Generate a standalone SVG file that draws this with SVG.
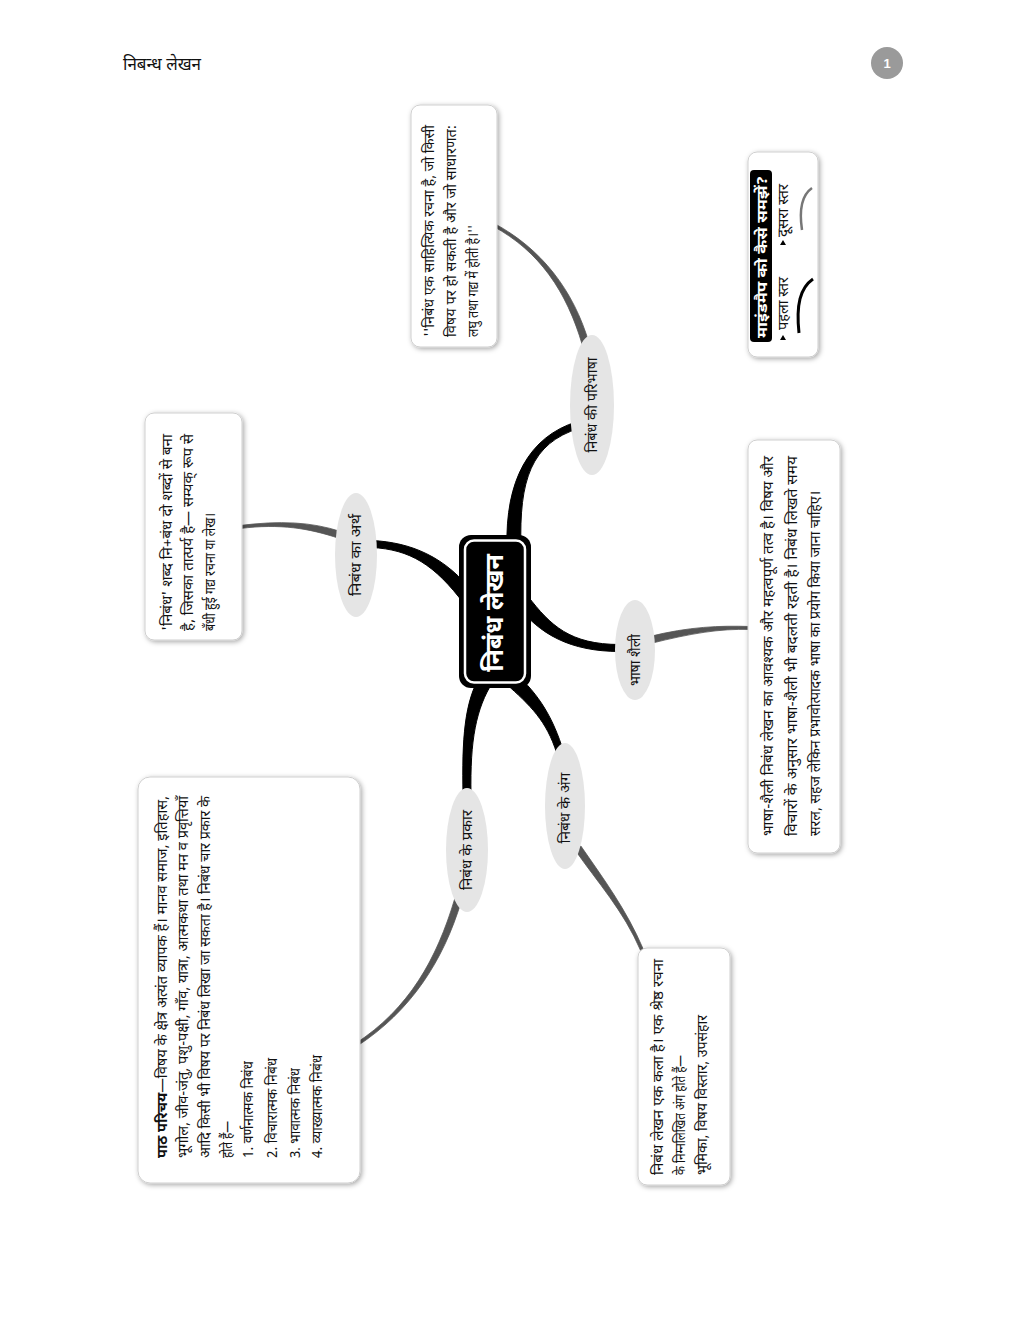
<svg xmlns="http://www.w3.org/2000/svg" width="1024" height="1325" viewBox="0 0 1024 1325">
<defs>
<filter id="sh" x="-20%" y="-20%" width="140%" height="140%">
<feDropShadow dx="1.5" dy="1.5" stdDeviation="2.5" flood-color="#000" flood-opacity="0.35"/>
</filter>
<style>
.t{font-family:"Noto Sans Devanagari","Noto Sans","Lohit Devanagari",sans-serif;fill:#111;}
.bt{font-size:15px;}
.el{fill:#e5e5e5;}
.box{fill:#fff;stroke:#cfcfcf;stroke-width:1;filter:url(#sh);}
.bk{fill:#000;stroke:#000;stroke-width:1;stroke-linejoin:round;}
.gr{fill:#555;stroke:#555;stroke-width:0.8;stroke-linejoin:round;}
.lbl{font-size:14.5px;text-anchor:middle;}
</style>
</defs>
<rect width="1024" height="1325" fill="#fff"/>

<g id="header">
<text class="t" x="123" y="70" font-size="17" fill="#222">निबन्ध लेखन</text>
<circle cx="887" cy="63" r="16" fill="#9a9a9a"/>
<text x="887" y="68" font-family="Liberation Sans, sans-serif" font-size="13" font-weight="bold" fill="#fff" text-anchor="middle">1</text>
</g>

<g id="connectors">
<path class="bk" d="M 464.4 604.2 C 434.4 564.2, 409.8 549.5, 371.8 547.5 L 372.2 540.5 C 410.2 542.5, 445.6 555.8, 475.6 595.8 Z"/>
<path class="bk" d="M 507 548.2 C 505 480.2, 528.96 436.66, 576.96 421.66 L 579.04 428.34 C 531.04 443.34, 519 479.8, 521 547.8 Z"/>
<path class="bk" d="M 527.56 595.74 C 550.56 625.74, 570 644.5, 620 644.5 L 620 651.5 C 570 651.5, 539.44 634.26, 516.44 604.26 Z"/>
<path class="bk" d="M 514.63 672.74 C 539.63 694.74, 553.34 718.96, 563.34 750.96 L 556.66 753.04 C 546.66 721.04, 530.37 705.26, 505.37 683.26 Z"/>
<path class="bk" d="M 492.92 681.73 C 475.92 708.73, 470 739.93, 471 794.93 L 463 795.07 C 462 740.07, 464.08 701.27, 481.08 674.27 Z"/>
<path class="gr" d="M 338.9 538.32 C 308.9 528.32, 280.19 523.49, 240.19 528.49 L 239.81 525.51 C 279.81 520.51, 311.1 521.68, 341.1 531.68 Z"/>
<path class="gr" d="M 582.64 345.98 C 566.64 290.98, 539.28 251.32, 493.28 226.32 L 494.72 223.68 C 540.72 248.68, 573.36 289.02, 589.36 344.02 Z"/>
<path class="gr" d="M 649.15 636.6 C 689.15 626.6, 720.05 625.5, 750.05 626.5 L 749.95 629.5 C 719.95 628.5, 690.85 633.4, 650.85 643.4 Z"/>
<path class="gr" d="M 580.89 846.02 C 602.89 878.02, 626.38 909.41, 643.38 949.41 L 640.62 950.59 C 623.62 910.59, 597.11 881.98, 575.11 849.98 Z"/>
<path class="gr" d="M 461.35 901.01 C 443.35 961.01, 410.82 1011.26, 356.82 1046.26 L 355.18 1043.74 C 409.18 1008.74, 436.65 958.99, 454.65 898.99 Z"/>
</g>

<g id="center">
<rect x="459" y="535" width="72" height="153" rx="12" fill="#000"/>
<rect x="465" y="540.5" width="60" height="142" rx="9" fill="none" stroke="#fff" stroke-width="2.5"/>
<text class="t" transform="translate(503,613) rotate(-90)" font-size="25" font-weight="bold" style="fill:#fff" text-anchor="middle">निबंध लेखन</text>
</g>

<g id="n-arth">
<ellipse class="el" cx="356" cy="555" rx="21" ry="62"/>
<text class="t lbl" transform="translate(361,555) rotate(-90)" textLength="82" lengthAdjust="spacingAndGlyphs">निबंध का अर्थ</text>
</g>
<g id="n-paribhasha">
<ellipse class="el" cx="592" cy="405" rx="22" ry="70"/>
<text class="t lbl" transform="translate(597,405) rotate(-90)" textLength="95" lengthAdjust="spacingAndGlyphs">निबंध की परिभाषा</text>
</g>
<g id="n-shaili">
<ellipse class="el" cx="635" cy="650" rx="20" ry="50"/>
<text class="t lbl" transform="translate(640,660) rotate(-90)" textLength="52" lengthAdjust="spacingAndGlyphs">भाषा शैली</text>
</g>
<g id="n-ang">
<ellipse class="el" cx="565" cy="806" rx="20" ry="63"/>
<text class="t lbl" transform="translate(570,808) rotate(-90)" textLength="71" lengthAdjust="spacingAndGlyphs">निबंध के अंग</text>
</g>
<g id="n-prakar">
<ellipse class="el" cx="467" cy="850" rx="21" ry="62"/>
<text class="t lbl" transform="translate(472,850) rotate(-90)" textLength="80" lengthAdjust="spacingAndGlyphs">निबंध के प्रकार</text>
</g>

<g id="box-paribhasha">
<rect class="box" x="411" y="105" width="86" height="242" rx="9"/>
<text class="t bt" transform="translate(434,337) rotate(-90)" textLength="212" lengthAdjust="spacingAndGlyphs">''निबंध एक साहित्यिक रचना है, जो किसी</text>
<text class="t bt" transform="translate(456,337) rotate(-90)" textLength="212" lengthAdjust="spacingAndGlyphs">विषय पर हो सकती है और जो साधारणत:</text>
<text class="t bt" transform="translate(478,337) rotate(-90)" textLength="112" lengthAdjust="spacingAndGlyphs">लघु तथा गद्य में होती है।''</text>
</g>

<g id="box-arth">
<rect class="box" x="145" y="413" width="97" height="227" rx="9"/>
<text class="t bt" transform="translate(172,631) rotate(-90)" textLength="197" lengthAdjust="spacingAndGlyphs">'निबंध' शब्द नि+बंध दो शब्दों से बना</text>
<text class="t bt" transform="translate(193,631) rotate(-90)" textLength="197" lengthAdjust="spacingAndGlyphs">है, जिसका तात्पर्य है— सम्यक् रूप से</text>
<text class="t bt" transform="translate(215,631) rotate(-90)" textLength="118" lengthAdjust="spacingAndGlyphs">बँधी हुई गद्य रचना या लेख।</text>
</g>

<g id="box-shaili">
<rect class="box" x="748" y="440" width="92" height="413" rx="9"/>
<text class="t bt" transform="translate(773,836) rotate(-90)" textLength="380" lengthAdjust="spacingAndGlyphs">भाषा-शैली निबंध लेखन का आवश्यक और महत्वपूर्ण तत्व है। विषय और</text>
<text class="t bt" transform="translate(797,836) rotate(-90)" textLength="380" lengthAdjust="spacingAndGlyphs">विचारों के अनुसार भाषा-शैली भी बदलती रहती है। निबंध लिखते समय</text>
<text class="t bt" transform="translate(820,836) rotate(-90)" textLength="345" lengthAdjust="spacingAndGlyphs">सरल, सहज लेकिन प्रभावोत्पादक भाषा का प्रयोग किया जाना चाहिए।</text>
</g>

<g id="box-prakar">
<rect class="box" x="138" y="777" width="222" height="406" rx="12"/>
<text class="t bt" transform="translate(167,1158) rotate(-90)" textLength="362" lengthAdjust="spacingAndGlyphs"><tspan font-weight="bold">पाठ परिचय</tspan>—विषय के क्षेत्र अत्यंत व्यापक हैं। मानव समाज, इतिहास,</text>
<text class="t bt" transform="translate(188,1158) rotate(-90)" textLength="362" lengthAdjust="spacingAndGlyphs">भूगोल, जीव-जंतु, पशु-पक्षी, गाँव, यात्रा, आत्मकथा तथा मन व प्रवृत्तियाँ</text>
<text class="t bt" transform="translate(210,1158) rotate(-90)" textLength="362" lengthAdjust="spacingAndGlyphs">आदि किसी भी विषय पर निबंध लिखा जा सकता है। निबंध चार प्रकार के</text>
<text class="t bt" transform="translate(232,1158) rotate(-90)" textLength="37" lengthAdjust="spacingAndGlyphs">होते हैं—</text>
<text class="t bt" transform="translate(253,1158) rotate(-90)" textLength="97" lengthAdjust="spacingAndGlyphs">1. वर्णनात्मक निबंध</text>
<text class="t bt" transform="translate(277,1158) rotate(-90)" textLength="100" lengthAdjust="spacingAndGlyphs">2. विचारात्मक निबंध</text>
<text class="t bt" transform="translate(300,1158) rotate(-90)" textLength="90" lengthAdjust="spacingAndGlyphs">3. भावात्मक निबंध</text>
<text class="t bt" transform="translate(322,1158) rotate(-90)" textLength="103" lengthAdjust="spacingAndGlyphs">4. व्याख्यात्मक निबंध</text>
</g>

<g id="box-ang">
<rect class="box" x="638" y="948" width="92" height="237" rx="9"/>
<text class="t bt" transform="translate(663,1175) rotate(-90)" textLength="216" lengthAdjust="spacingAndGlyphs">निबंध लेखन एक कला है। एक श्रेष्ठ रचना</text>
<text class="t bt" transform="translate(685,1175) rotate(-90)" textLength="120" lengthAdjust="spacingAndGlyphs">के निम्नलिखित अंग होते हैं—</text>
<text class="t bt" transform="translate(707,1175) rotate(-90)" textLength="160" lengthAdjust="spacingAndGlyphs">भूमिका, विषय विस्तार, उपसंहार</text>
</g>

<g id="legend">
<rect class="box" x="748" y="152" width="70" height="205" rx="9" stroke="#999" stroke-width="1.5"/>
<rect x="750" y="170" width="22" height="172" rx="4" fill="#000"/>
<text class="t" transform="translate(767,257) rotate(-90)" font-size="15" font-weight="bold" style="fill:#fff" text-anchor="middle" textLength="162" lengthAdjust="spacingAndGlyphs">माइंडमैप को कैसे समझें?</text>
<polygon points="780,340 786,340 783,335" fill="#000"/>
<text class="t" transform="translate(788,330) rotate(-90)" font-size="15" textLength="53" lengthAdjust="spacingAndGlyphs">पहला स्तर</text>
<path d="M 813 279 C 800 288, 796 305, 799 333" fill="none" stroke="#000" stroke-width="3"/>
<polygon points="780,245 786,245 783,240" fill="#000"/>
<text class="t" transform="translate(788,237) rotate(-90)" font-size="15" textLength="53" lengthAdjust="spacingAndGlyphs">दूसरा स्तर</text>
<path d="M 812 188 C 802 195, 799 210, 802 230" fill="none" stroke="#777" stroke-width="2.5"/>
</g>
</svg>
